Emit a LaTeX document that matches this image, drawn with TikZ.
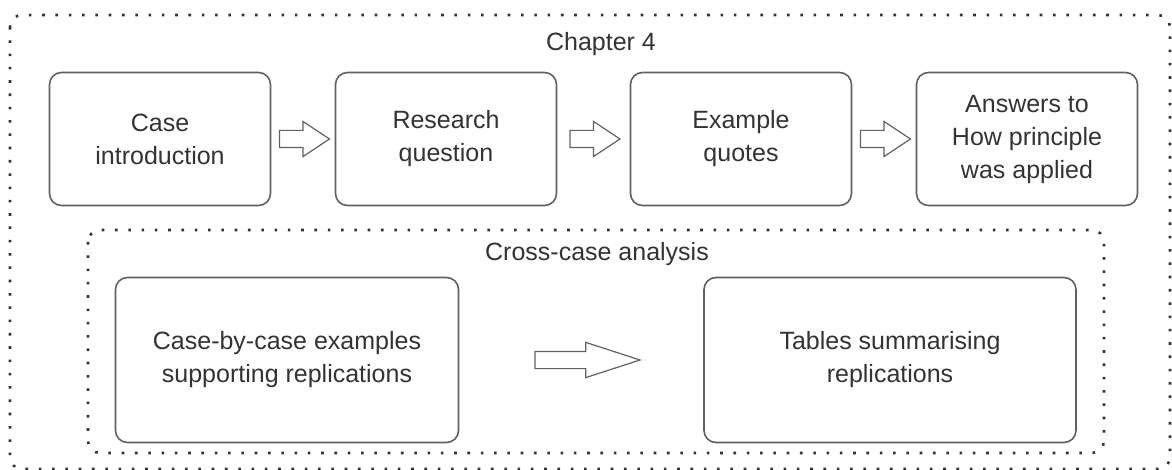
\documentclass[tikz,border=0pt]{standalone}
\usepackage{fontspec}
\setmainfont{Liberation Sans}
\usetikzlibrary{shapes.arrows,positioning,calc}

\begin{document}
\begin{tikzpicture}[x=1pt, y=-1pt,
	every node/.style={font=\fontsize{25}{33}\selectfont, text=black!80},
	box/.style={draw=black!62, line width=1.6pt, rounded corners=12pt,
		align=center, inner sep=0pt},
	small box/.style={box, minimum width=221pt, minimum height=133pt},
	large box/.style={box, minimum width=343pt, minimum height=165pt},
	frame/.style={draw=black!80, line width=2.6pt, rounded corners=12pt,
		dash pattern=on 2.6pt off 10.7pt},
	fat arrow/.style={single arrow, draw=black!62, line width=1.2pt,
		inner xsep=0pt, inner ysep=8pt, single arrow head extend=9pt},
	short arrow/.style={fat arrow, minimum height=50pt, single arrow tip angle=67,
		xshift=-5pt},
	long arrow/.style={fat arrow, minimum height=105pt, single arrow tip angle=36,
		xshift=-7pt}]
\useasboundingbox (0,0) rectangle (1172,470);

% frames
\draw[frame] (10,15) rectangle (1170,469);
\draw[frame] (88,230) rectangle (1104,453);
\node (chapter) at (601,44) {Chapter 4};
\node (crosscase) at (597,254) {Cross-case analysis};

% top row
\node[small box] (intro) at (160,139) {Case\\introduction};
\node[small box] (question) at (446,139) {Research\\question};
\node[small box] (quotes) at (741,139) {Example\\quotes};
\node[small box] (answers) at (1027,139) {\raisebox{-3pt}{Answers to}\\\raisebox{-3pt}{How principle}\\\raisebox{-3pt}{was applied}};

\node[short arrow] (a1) at ($(intro.east)!0.5!(question.west)$) {};
\node[short arrow] (a2) at ($(question.east)!0.5!(quotes.west)$) {};
\node[short arrow] (a3) at ($(quotes.east)!0.5!(answers.west)$) {};

% bottom row
\node[large box] (examples) at (287,360) {\raisebox{7pt}{Case-by-case examples}\\\raisebox{7pt}{supporting replications}};
\node[large box, minimum width=372pt] (tables) at (890,360) {\raisebox{3pt}{Tables summarising}\\\raisebox{3pt}{replications}};
\node[long arrow] (a4) at ($(examples.east)!0.5!(tables.west)$) {};
\end{tikzpicture}
\end{document}
